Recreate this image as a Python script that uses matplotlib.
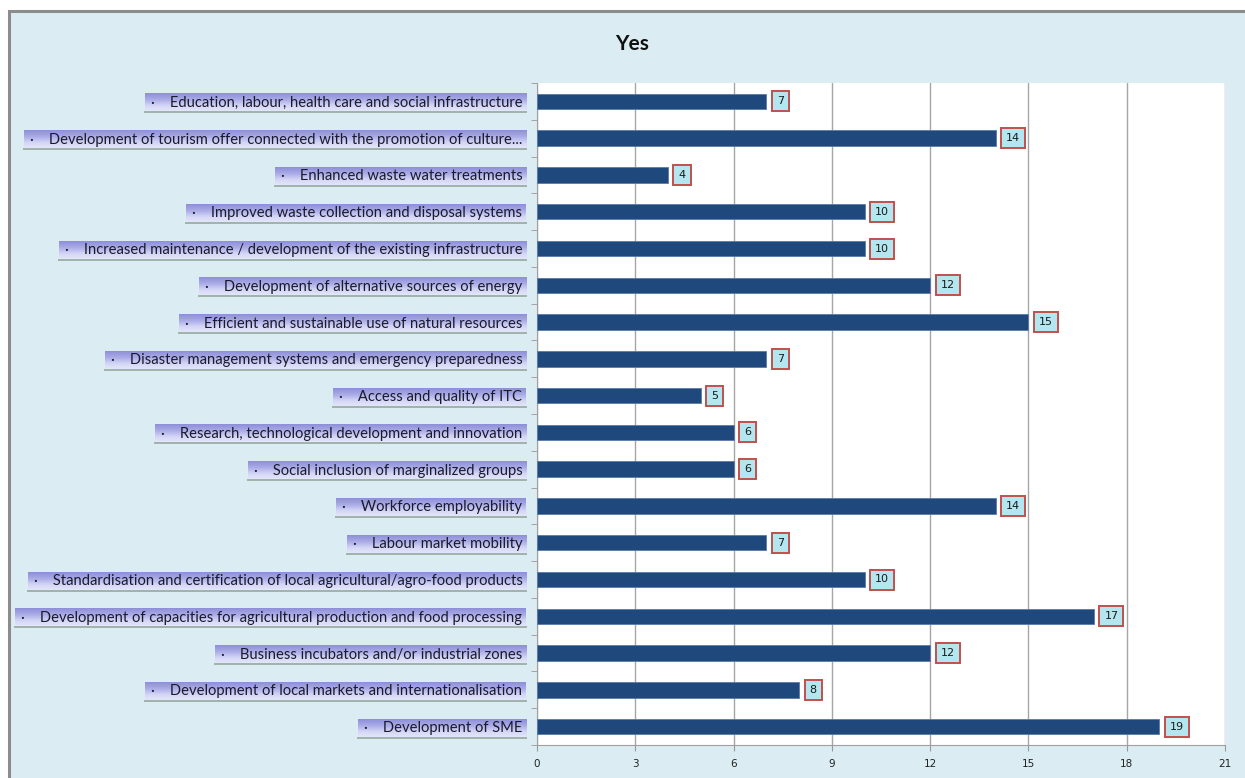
import numpy as np
import matplotlib
matplotlib.use("Agg")
import matplotlib.pyplot as plt
from matplotlib.patches import Rectangle
from matplotlib.colors import LinearSegmentedColormap

W, H = 1245, 778

# categories listed top to bottom
categories = [
    "Education, labour, health care and social infrastructure",
    "Development of tourism offer connected with the promotion of culture...",
    "Enhanced waste water treatments",
    "Improved waste collection and disposal systems",
    "Increased maintenance / development of the existing infrastructure",
    "Development of alternative sources of energy",
    "Efficient and sustainable use of natural resources",
    "Disaster management systems and emergency preparedness",
    "Access and quality of ITC",
    "Research, technological development and innovation",
    "Social inclusion of marginalized groups",
    "Workforce employability",
    "Labour market mobility",
    "Standardisation and certification of local agricultural/agro-food products",
    "Development of capacities for agricultural production and food processing",
    "Business incubators and/or industrial zones",
    "Development of local markets and internationalisation",
    "Development of SME",
]
values = [7, 14, 4, 10, 10, 12, 15, 7, 5, 6, 6, 14, 7, 10, 17, 12, 8, 19]
x_ticks = [0, 3, 6, 9, 12, 15, 18, 21]
title = "Yes"

plt.rcParams["font.family"] = ["Lato", "DejaVu Sans"]

fig = plt.figure(figsize=(W / 100, H / 100), dpi=100)
fig.patch.set_facecolor("white")

# background frame in pixel coordinates
bg = fig.add_axes([0, 0, 1, 1], zorder=-1)
bg.set_xlim(0, W)
bg.set_ylim(0, H)
bg.axis("off")
bg.add_patch(Rectangle((9, -10), W + 20, H - 11 + 10, facecolor="#dbedf3",
                       edgecolor="#8c8c8c", linewidth=2.2))

ax = fig.add_axes([537 / W, 1 - 745 / H, (1225 - 537) / W, (745 - 83) / H], zorder=1)
ax.set_facecolor("white")

y = np.arange(len(categories))
ax.barh(y, values, height=0.42, color="#1f497d", edgecolor="#5a7aa6",
        linewidth=0.6, zorder=3)

for yi, v in zip(y, values):
    ax.annotate(str(v), xy=(v, yi), xytext=(7.5, 0), textcoords="offset points",
                ha="left", va="center", fontsize=8, color="#1a1a1a",
                family=["DejaVu Sans"],
                bbox=dict(boxstyle="square,pad=0.45", facecolor="#b3e6ef",
                          edgecolor="#c0504d", linewidth=1.4),
                zorder=5)

ax.set_xlim(0, 21)
ax.set_ylim(len(categories) - 0.5, -0.5)
ax.set_xticks(x_ticks)
ax.set_xticklabels([str(t) for t in x_ticks], fontsize=7.5, color="#222222",
                   family=["DejaVu Sans"])
ax.tick_params(axis="x", length=4, color="#999999", pad=6)
ax.grid(axis="x", color="#a6a6a6", linewidth=1.0, zorder=0)

ax.set_yticks(y)
ax.set_yticklabels(["·    " + c for c in categories], fontsize=10.6, color="#1a1a2a")
ax.tick_params(axis="y", which="major", length=0, pad=10.5)
ax.set_yticks(np.arange(len(categories) + 1) - 0.5, minor=True)
ax.tick_params(axis="y", which="minor", length=4, color="#999999")

for s in ["top", "right"]:
    ax.spines[s].set_visible(False)
ax.spines["left"].set_color("#a0a0a0")
ax.spines["bottom"].set_color("#a0a0a0")

fig.text(632 / W, 1 - 44 / H, title, ha="center", va="center",
         fontsize=15, fontweight="bold", color="#111111")

# gradient boxes behind the category labels
fig.canvas.draw()
renderer = fig.canvas.get_renderer()
grad = LinearSegmentedColormap.from_list(
    "lbl", ["#e6e8fb", "#d4d6f6", "#a9aae6", "#8e8fd9"])
gimg = np.linspace(0, 1, 64).reshape(-1, 1)
for lbl in ax.get_yticklabels():
    bb = lbl.get_window_extent(renderer)
    x0 = bb.x0 - 6
    x1 = bb.x1 + 4
    yc = (bb.y0 + bb.y1) / 2
    y0, y1 = yc - 9.5, yc + 9.5
    bg.imshow(gimg, cmap=grad, extent=(x0, x1, y0, y1), aspect="auto",
              origin="lower", zorder=2, interpolation="bilinear")
    bg.plot([x0, x1], [y0, y0], color="#9fb3a9", linewidth=1.4, zorder=3)
bg.set_xlim(0, W)
bg.set_ylim(0, H)

fig.savefig("out.png", dpi=100)
